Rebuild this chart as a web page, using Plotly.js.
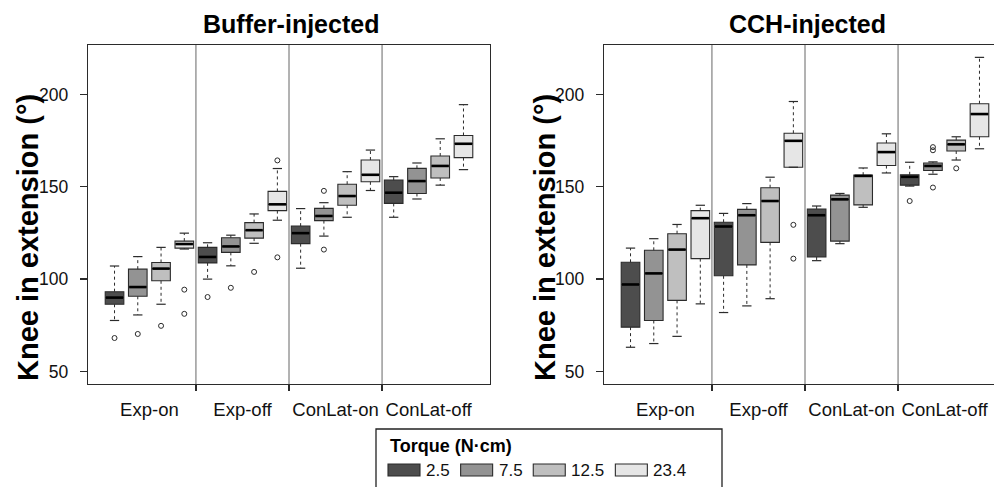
<!DOCTYPE html>
<html>
<head>
<meta charset="utf-8">
<script src="https://cdn.plot.ly/plotly-3.0.1.min.js"></script>
<style>
html, body { margin: 0; padding: 0; background: #fff; overflow: hidden; }
#chart { width: 1010px; height: 487px; }
</style>
</head>
<body>
<div id="chart"></div>
<script>
// ---------- data ----------
const groups = ['Exp-on', 'Exp-off', 'ConLat-on', 'ConLat-off'];
const torques = ['2.5', '7.5', '12.5', '23.4'];
const legendTitle = 'Torque (N·cm)';
const panelTitles = ['Buffer-injected', 'CCH-injected'];
const yTitle = 'Knee in extension (°)';
const yTicks = [50, 100, 150, 200];

// [torque][group]
const bufUpper = [[107.1, 119.7, 138.2, 155.5], [112.2, 123.8, 141.4, 162.9], [117.2, 135.3, 158.2, 176.0], [124.9, 159.9, 169.9, 194.5]];
const bufQ3    = [[93.2, 117.2, 128.7, 153.6], [105.4, 122.4, 138.3, 160.0], [109.0, 130.6, 151.4, 166.7], [120.6, 147.5, 164.5, 177.8]];
const bufMed   = [[90.0, 112.0, 124.9, 146.8], [95.7, 117.7, 134.2, 153.1], [105.7, 126.5, 145.0, 161.3], [119.0, 140.5, 156.5, 173.3]];
const bufQ1    = [[86.4, 108.8, 119.2, 141.0], [90.7, 114.5, 131.7, 146.4], [99.1, 122.2, 140.0, 154.8], [116.8, 137.1, 152.7, 165.8]];
const bufLower = [[77.6, 100.0, 105.9, 133.5], [80.6, 107.2, 123.3, 143.4], [86.4, 119.4, 133.5, 150.9], [116.3, 131.9, 148.0, 159.3]];
const bufOutGroup = [[0, 1], [0, 1, 2, 2], [0, 1], [0, 0, 1, 1]];
const bufOutValue = [[68.1, 90.3], [70.3, 95.3, 147.8, 116.0], [74.7, 103.9], [94.3, 81.2, 164.3, 111.8]];

const cchUpper = [[116.8, 135.6, 139.6, 163.3], [121.9, 140.9, 146.4, 163.5], [129.6, 155.2, 160.2, 177.1], [140.0, 196.2, 178.7, 220.1]];
const cchQ3    = [[109.1, 130.8, 138.0, 156.5], [115.6, 137.8, 145.5, 162.9], [124.6, 149.5, 156.3, 175.3], [137.1, 179.0, 173.7, 195.0]];
const cchMed   = [[97.1, 128.5, 134.6, 155.4], [103.1, 134.6, 143.2, 161.3], [116.0, 142.3, 155.9, 173.0], [133.0, 174.9, 168.8, 189.4]];
const cchQ1    = [[74.0, 101.8, 112.0, 150.9], [77.6, 107.7, 120.6, 158.8], [88.5, 119.9, 140.2, 169.4], [111.1, 160.6, 161.5, 177.1]];
const cchLower = [[63.1, 81.9, 110.0, 150.4], [65.1, 85.5, 119.2, 156.8], [69.0, 89.4, 138.9, 164.5], [86.6, 160.6, 157.5, 170.6]];
const cchOutGroup = [[3], [3, 3, 3], [3], [1, 1]];
const cchOutValue = [[142.3], [171.5, 169.8, 149.6], [160.0], [129.4, 111.1]];

// ---------- styles ----------
const fills = ['#4d4d4d', '#939393', '#bfbfbf', '#e6e6e6'];
const FONT = 'Liberation Sans, Arial, Helvetica, sans-serif';
const INK = '#2b2b2b';
const BOXW = 0.8, CAPW = 0.4;

const W = 1010, H = 487;
const M = { l: 88, r: 4, t: 45, b: 103 };
const PW = W - M.l - M.r, PH = H - M.t - M.b;
const px2x = p => (p - M.l) / PW;
const py2y = p => (H - M.b - p) / PH;

const nG = groups.length, nT = torques.length;
const pos = (g, t) => g * nT + t + 1;

const panels = [
  { xa: 'x', ya: 'y', up: bufUpper, q3: bufQ3, med: bufMed, q1: bufQ1, lo: bufLower, og: bufOutGroup, ov: bufOutValue },
  { xa: 'x2', ya: 'y2', up: cchUpper, q3: cchQ3, med: cchMed, q1: cchQ1, lo: cchLower, og: cchOutGroup, ov: cchOutValue }
];

const traces = [];
panels.forEach(P => {
  const wx = [], wy = [], cx = [], cy = [];
  for (let t = 0; t < nT; t++) {
    for (let g = 0; g < nG; g++) {
      const p = pos(g, t);
      wx.push(p, p, null, p, p, null);
      wy.push(P.q3[t][g], P.up[t][g], null, P.q1[t][g], P.lo[t][g], null);
      cx.push(p - CAPW / 2, p + CAPW / 2, null, p - CAPW / 2, p + CAPW / 2, null);
      cy.push(P.up[t][g], P.up[t][g], null, P.lo[t][g], P.lo[t][g], null);
    }
  }
  traces.push({ type: 'scatter', mode: 'lines', x: wx, y: wy, xaxis: P.xa, yaxis: P.ya,
    line: { color: INK, width: 1, dash: '3px,3px' }, hoverinfo: 'skip', showlegend: false });
  traces.push({ type: 'scatter', mode: 'lines', x: cx, y: cy, xaxis: P.xa, yaxis: P.ya,
    line: { color: INK, width: 1.2 }, hoverinfo: 'skip', showlegend: false });

  for (let t = 0; t < nT; t++) {
    const xs = groups.map((_, g) => pos(g, t));
    traces.push({
      type: 'box', name: torques[t], xaxis: P.xa, yaxis: P.ya,
      x: xs, q1: P.q1[t], median: P.med[t], q3: P.q3[t],
      lowerfence: P.q1[t], upperfence: P.q3[t],
      width: BOXW, whiskerwidth: 0, boxpoints: false,
      fillcolor: fills[t], line: { color: INK, width: 1.1 },
      hoverinfo: 'skip', showlegend: false
    });
  }

  const mx = [], my = [];
  for (let t = 0; t < nT; t++) {
    for (let g = 0; g < nG; g++) {
      const p = pos(g, t);
      mx.push(p - BOXW / 2 + 0.03, p + BOXW / 2 - 0.03, null);
      my.push(P.med[t][g], P.med[t][g], null);
    }
  }
  traces.push({ type: 'scatter', mode: 'lines', x: mx, y: my, xaxis: P.xa, yaxis: P.ya,
    line: { color: '#000', width: 2.6 }, hoverinfo: 'skip', showlegend: false });

  const ox = [], oy = [];
  for (let t = 0; t < nT; t++) {
    P.og[t].forEach((g, i) => { ox.push(pos(g, t)); oy.push(P.ov[t][i]); });
  }
  traces.push({ type: 'scatter', mode: 'markers', x: ox, y: oy, xaxis: P.xa, yaxis: P.ya,
    marker: { symbol: 'circle-open', size: 5, color: INK, line: { width: 1 } },
    hoverinfo: 'skip', showlegend: false });
});

// ---------- axes ----------
const nPos = nG * nT;
const xRange = [0.5 - 0.04 * nPos, nPos + 0.5 + 0.04 * nPos];
const yRange = [50 - 0.04 * 170, 220 + 0.04 * 170];
const centers = groups.map((_, g) => g * nT + (nT + 1) / 2);
const seps = groups.slice(1).map((_, g) => (g + 1) * nT + 0.5);

function xaxis(domain, anchor) {
  return {
    domain, anchor, range: xRange, showgrid: false, zeroline: false,
    showline: true, mirror: true, linecolor: INK, linewidth: 1.3,
    tickmode: 'array', tickvals: centers, ticktext: groups, ticks: '',
    tickfont: { family: FONT, size: 18.5, color: '#111' }, ticklabelstandoff: 8,
    minor: { tickmode: 'array', tickvals: seps, ticks: 'outside', ticklen: 6, tickwidth: 1.3, tickcolor: INK, showgrid: false },
    fixedrange: true
  };
}
function yaxis(anchor) {
  return {
    domain: [0, 1], anchor, range: yRange, showgrid: false, zeroline: false,
    showline: true, mirror: true, linecolor: INK, linewidth: 1.3,
    tickmode: 'array', tickvals: yTicks, ticks: 'outside', ticklen: 7, tickwidth: 1.3, tickcolor: INK,
    tickfont: { family: FONT, size: 17.5, color: '#111' }, ticklabelstandoff: 8,
    title: { text: '' },
    fixedrange: true
  };
}

const leftDom = [0, px2x(490)];
const rightDom = [px2x(604), 1];

const shapes = [];
['x', 'x2'].forEach((xa, i) => {
  seps.forEach(s => shapes.push({
    type: 'line', xref: xa, yref: (i === 0 ? 'y' : 'y2') + ' domain', x0: s, x1: s, y0: 0, y1: 1,
    line: { color: '#666', width: 1 }, layer: 'below'
  }));
});

const annotations = panelTitles.map((txt, i) => ({
  text: txt, xref: (i === 0 ? 'x' : 'x2') + ' domain', yref: (i === 0 ? 'y' : 'y2') + ' domain',
  x: 0.5, y: 1, xanchor: 'center', yanchor: 'bottom', yshift: 5, xshift: 2, showarrow: false,
  font: { family: FONT, size: 25, color: '#000', weight: 'bold' }
}));

// y-axis titles (one per panel)
[28, 545].forEach(cxp => annotations.push({
  text: yTitle, xref: 'paper', yref: 'paper', x: px2x(cxp), y: py2y(238),
  xanchor: 'center', yanchor: 'middle', textangle: -90, showarrow: false,
  font: { family: FONT, size: 29, color: '#000', weight: 'bold' }
}));

// ---------- legend (drawn from torque labels) ----------
const legTop = 429, legBottom = 505, legLeft = 376, legRight = 722;
shapes.push({ type: 'rect', xref: 'paper', yref: 'paper',
  x0: px2x(legLeft), x1: px2x(legRight), y0: py2y(legBottom), y1: py2y(legTop),
  line: { color: '#222', width: 1.3 }, fillcolor: 'rgba(0,0,0,0)' });
annotations.push({ text: legendTitle, xref: 'paper', yref: 'paper', x: px2x(388), y: py2y(446),
  xanchor: 'left', yanchor: 'middle', showarrow: false,
  font: { family: FONT, size: 18, color: '#000', weight: 'bold' } });

const ctx = document.createElement('canvas').getContext('2d');
ctx.font = '17px "Liberation Sans", Arial, sans-serif';
let sx = 388;
const rowY = 470, swW = 32, swH = 12;
torques.forEach((lab, t) => {
  shapes.push({ type: 'rect', xref: 'paper', yref: 'paper',
    x0: px2x(sx), x1: px2x(sx + swW), y0: py2y(rowY + swH / 2), y1: py2y(rowY - swH / 2),
    fillcolor: fills[t], line: { color: INK, width: 1.1 } });
  annotations.push({ text: lab, xref: 'paper', yref: 'paper', x: px2x(sx + swW + 5), y: py2y(rowY),
    xanchor: 'left', yanchor: 'middle', showarrow: false, xshift: -1,
    font: { family: FONT, size: 17, color: '#111' } });
  sx = sx + swW + 5 + ctx.measureText(lab).width + 12;
});

const layout = {
  width: W, height: H, margin: M, paper_bgcolor: '#fff', plot_bgcolor: '#fff',
  showlegend: false, boxmode: 'overlay',
  font: { family: FONT, color: '#111' },
  xaxis: xaxis(leftDom, 'y'), yaxis: yaxis('x'),
  xaxis2: xaxis(rightDom, 'y2'), yaxis2: yaxis('x2'),
  shapes, annotations
};

Plotly.newPlot('chart', traces, layout, { staticPlot: true, displayModeBar: false });
</script>
</body>
</html>
